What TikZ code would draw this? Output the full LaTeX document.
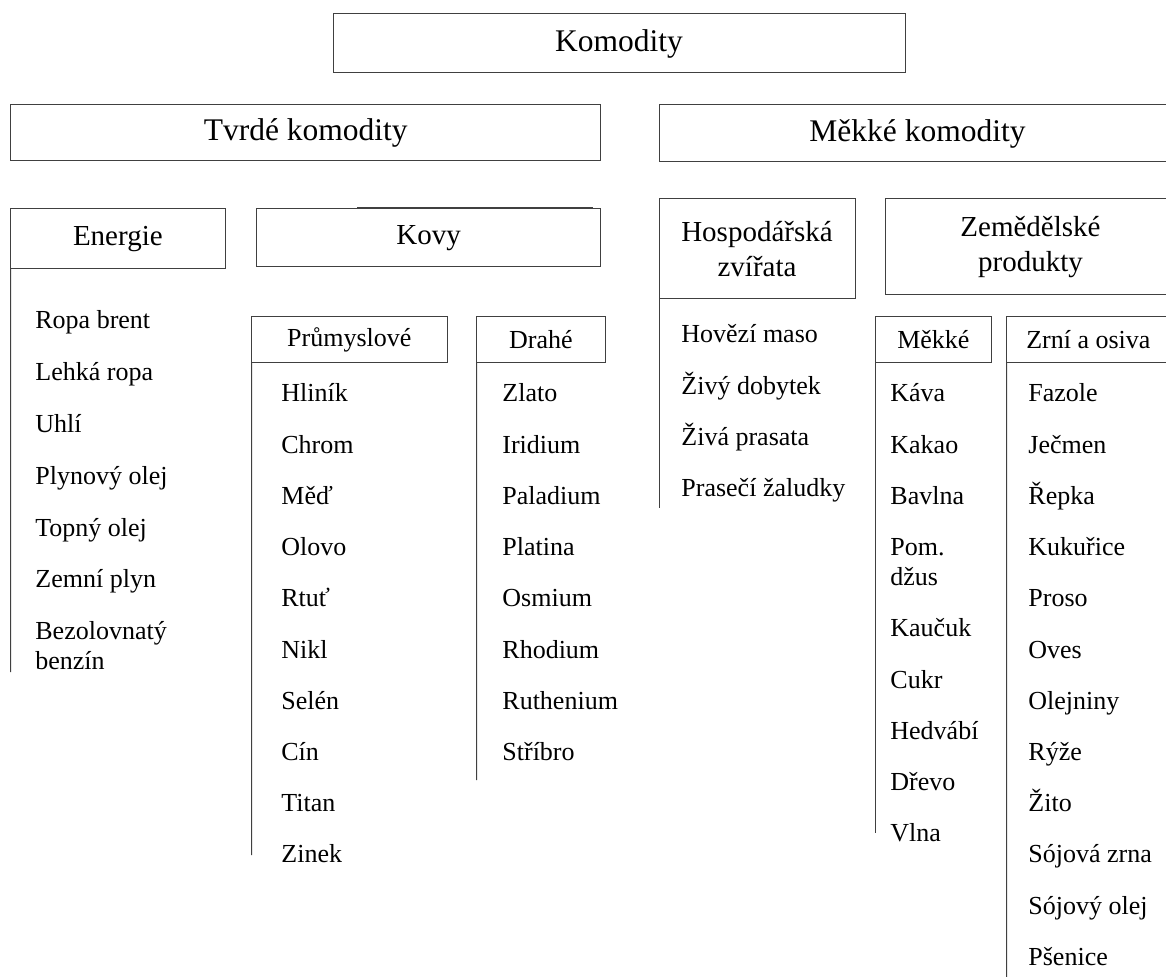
\documentclass[tikz,border=0pt]{standalone}
\usepackage{fontspec}
\setmainfont{Liberation Serif}

\begin{document}
\begin{tikzpicture}[x=0.5pt,y=-0.5pt,
	box/.style={draw=black!75,line width=0.5pt,inner sep=0pt,outer sep=0pt,align=center},
	topbox/.style={box,font=\fontsize{15.75}{19}\selectfont},
	midbox/.style={box,font=\fontsize{14.5}{17.5}\selectfont},
	subbox/.style={box,font=\fontsize{13}{15}\selectfont},
	item/.style={anchor=base west,inner sep=0pt,font=\fontsize{13}{15}\selectfont},
	stem/.style={draw=black!75,line width=0.5pt}]
	\useasboundingbox (0,0) rectangle (1166,977);
	% top levels
	\node[topbox,minimum width=286pt,minimum height=29.5pt] (komodity) at (619,43.5) {Komodity};
	\node[topbox,minimum width=295pt,minimum height=28pt] (tvrde) at (305.7,133) {Tvrdé komodity};
	\node[topbox,minimum width=258.5pt,minimum height=28.5pt] (mekkeKom) at (917.5,133.5) {Měkké komodity};
	% groups
	\node[midbox,minimum width=107.15pt,minimum height=30.15pt] (energie) at (117.85,238.85) {Energie};
	\node[midbox,minimum width=172pt,minimum height=29pt] (kovy) at (428.7,237.7) {Kovy};
	\draw[stem] (357,207.7) -- (593,207.7);
	\node[midbox,minimum width=98pt,minimum height=50pt] (hosp) at (757,249) {Hospodářská\\zvířata};
	\node[midbox,minimum width=145.5pt,minimum height=48pt] (zemed) at (1030.5,247) {Zemědělské\\produkty};
	\node[subbox,minimum width=97.65pt,minimum height=23.15pt] (prum) at (349.35,339.85) {Průmyslové};
	\node[subbox,minimum width=64.15pt,minimum height=23.15pt] (drahe) at (540.85,339.85) {Drahé};
	\node[subbox,minimum width=58.35pt,minimum height=23.15pt] (mekke) at (933.35,339.85) {Měkké};
	\node[subbox,minimum width=81.65pt,minimum height=23.15pt] (zrni) at (1088.35,339.85) {Zrní a osiva};
	% stems
	\coordinate (energieEnd) at (10.7,672);
	\coordinate (prumEnd) at (251.7,855);
	\coordinate (draheEnd) at (476.7,780);
	\coordinate (hospEnd) at (659,508);
	\coordinate (mekkeEnd) at (875,833);
	\coordinate (zrniEnd) at (1006.7,990);
	\draw[stem] (energie.south west) -- (energieEnd);
	\draw[stem] (prum.south west) -- (prumEnd);
	\draw[stem] (drahe.south west) -- (draheEnd);
	\draw[stem] (hosp.south west) -- (hospEnd);
	\draw[stem] (mekke.south west) -- (mekkeEnd);
	\draw[stem] (zrni.south west) -- (zrniEnd);
	% lists
	\foreach \t [count=\i from 0] in {Ropa brent,Lehká ropa,Uhlí,Plynový olej,Topný olej,Zemní plyn,Bezolovnatý}
		\node[item] (en\i) at (35,329+51.8*\i) {\t};
	\node[item] (en7) at (35,669.8) {benzín};
	\foreach \t [count=\i from 0] in {Hliník,Chrom,Měď,Olovo,Rtuť,Nikl,Selén,Cín,Titan,Zinek}
		\node[item] (pr\i) at (281,402+51.2*\i) {\t};
	\foreach \t [count=\i from 0] in {Zlato,Iridium,Paladium,Platina,Osmium,Rhodium,Ruthenium,Stříbro}
		\node[item] (dr\i) at (502,402+51.2*\i) {\t};
	\foreach \t [count=\i from 0] in {Hovězí maso,Živý dobytek,Živá prasata,Prasečí žaludky}
		\node[item] (ho\i) at (681,343+51.2*\i) {\t};
	\foreach \t/\y [count=\i from 0] in {Káva/402,Kakao/453.2,Bavlna/504.4,Pom./555.6,džus/585.6,Kaučuk/636.8,Cukr/688,Hedvábí/739.2,Dřevo/790.4,Vlna/841.6}
		\node[item] (me\i) at (890,\y) {\t};
	\foreach \t [count=\i from 0] in {Fazole,Ječmen,Řepka,Kukuřice,Proso,Oves,Olejniny,Rýže,Žito,Sójová zrna,Sójový olej,Pšenice}
		\node[item] (zr\i) at (1028,402+51.2*\i) {\t};
\end{tikzpicture}
\end{document}
